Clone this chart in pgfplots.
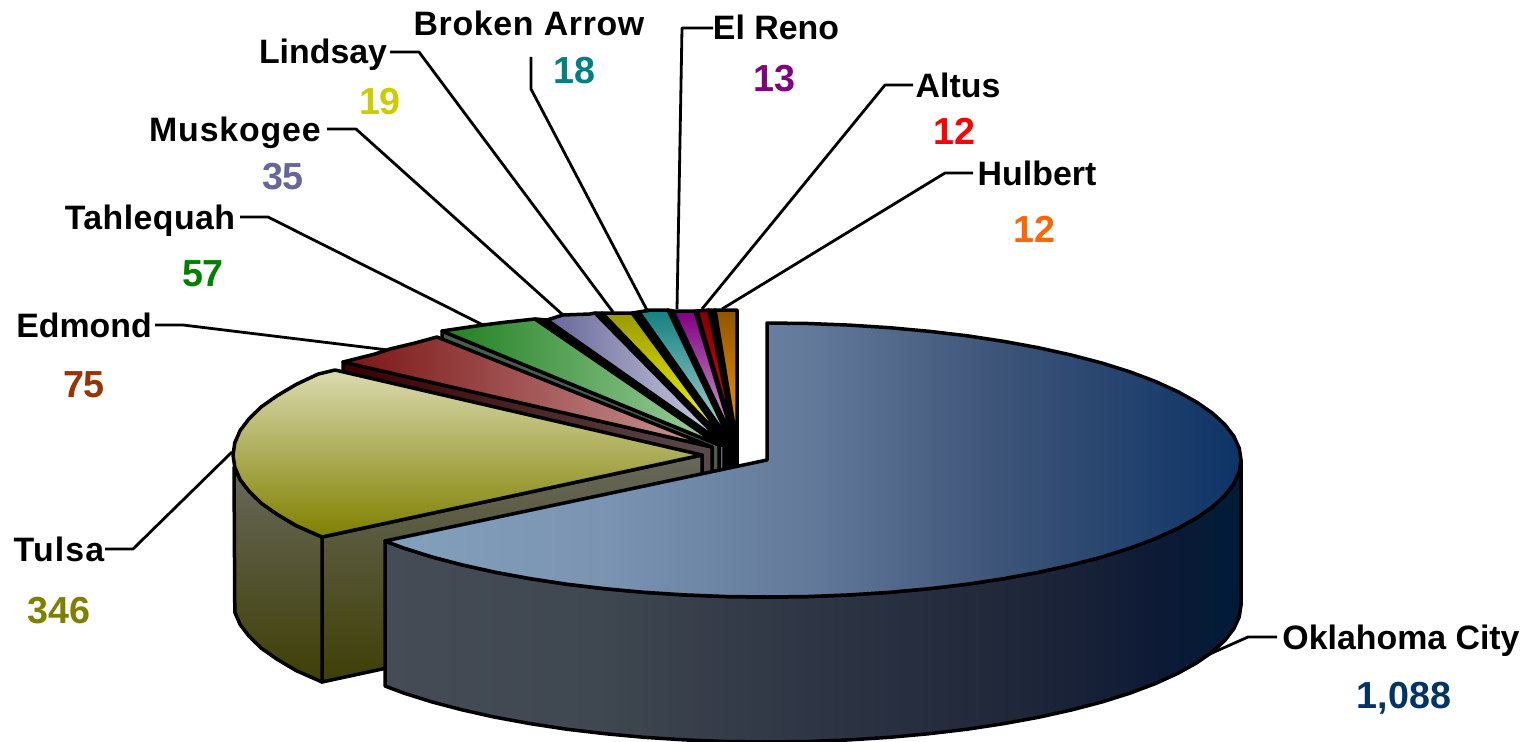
\documentclass[border=0pt]{standalone}
\usepackage{pgfplots}
\usepackage{fontspec}
\setmainfont{Liberation Sans}
\pgfplotsset{compat=1.18}
\definecolor{nOKC}{HTML}{003366}
\definecolor{nTul}{HTML}{808000}
\definecolor{nEdm}{HTML}{993300}
\definecolor{nTah}{HTML}{008000}
\definecolor{nMus}{HTML}{666699}
\definecolor{nLin}{HTML}{CCCC00}
\definecolor{nBro}{HTML}{008080}
\definecolor{nElR}{HTML}{800080}
\definecolor{nAlt}{HTML}{FF0000}
\definecolor{nHul}{HTML}{FF6600}
\definecolor{HTMLhul1}{HTML}{8F5500}
\definecolor{HTMLhul2}{HTML}{FF9900}
\definecolor{HTMLalt1}{HTML}{800000}
\definecolor{HTMLalt2}{HTML}{FF0000}
\definecolor{HTMLelr1}{HTML}{800080}
\definecolor{HTMLelr2}{HTML}{D8B0D8}
\definecolor{HTMLbro1}{HTML}{148080}
\definecolor{HTMLbro2}{HTML}{B0DCD8}
\definecolor{HTMLlin1}{HTML}{999900}
\definecolor{HTMLlin2}{HTML}{FFFF00}
\definecolor{HTMLmus1}{HTML}{666699}
\definecolor{HTMLmus2}{HTML}{D0D0E4}
\definecolor{HTMLmusw}{HTML}{6B6B73}
\definecolor{HTMLtah1}{HTML}{1F7F1F}
\definecolor{HTMLtah2}{HTML}{A0D0A0}
\definecolor{HTMLtahw}{HTML}{4A5C4C}
\definecolor{HTMLedw1}{HTML}{3A0000}
\definecolor{HTMLedw2}{HTML}{5A4A4C}
\definecolor{HTMLedm1}{HTML}{7A1414}
\definecolor{HTMLedmm}{HTML}{A46666}
\definecolor{HTMLedm2}{HTML}{CC9898}
\definecolor{HTMLtuw1}{HTML}{68685C}
\definecolor{HTMLtuw2}{HTML}{3F3F05}
\definecolor{HTMLtul1}{HTML}{DADAB0}
\definecolor{HTMLtulm}{HTML}{B8B884}
\definecolor{HTMLtul2}{HTML}{808000}
\definecolor{HTMLsA}{HTML}{454C56}
\definecolor{HTMLsB}{HTML}{3F4750}
\definecolor{HTMLsC}{HTML}{2E3544}
\definecolor{HTMLsD}{HTML}{1E2639}
\definecolor{HTMLsE}{HTML}{0E1A36}
\definecolor{HTMLsF}{HTML}{001B36}
\definecolor{HTMLtA}{HTML}{82A0BC}
\definecolor{HTMLtB}{HTML}{7B94B2}
\definecolor{HTMLtC}{HTML}{62799A}
\definecolor{HTMLtD}{HTML}{3D5478}
\definecolor{HTMLtE}{HTML}{0D3366}
\pgfdeclarehorizontalshading{okside}{100bp}{
 color(0bp)=(HTMLsA); color(25bp)=(HTMLsA); color(37.5bp)=(HTMLsB); color(50bp)=(HTMLsC);
 color(62.5bp)=(HTMLsD); color(70bp)=(HTMLsE); color(75bp)=(HTMLsF); color(100bp)=(HTMLsF)}
\pgfdeclarehorizontalshading{oktop}{100bp}{
 color(0bp)=(HTMLtA); color(25bp)=(HTMLtA); color(37.5bp)=(HTMLtB); color(50bp)=(HTMLtC);
 color(61bp)=(HTMLtD); color(75bp)=(HTMLtE); color(100bp)=(HTMLtE)}
\newcommand{\nm}[2][0]{\fontsize{17}{20}\selectfont\bfseries\addfontfeature{LetterSpace=#1}#2}
\newcommand{\vl}[1]{\fontsize{18.9}{20}\selectfont\bfseries #1}
\tikzset{pie/.style={draw=black,line width=1.75bp,line join=round},
 lead/.style={draw=black,line width=1.4bp,line join=round},
 lab/.style={anchor=base,inner sep=0pt,outer sep=0pt}}
\begin{document}
\begin{tikzpicture}
\begin{axis}[width=766bp,height=371bp,scale only axis,
 xmin=0,xmax=1532,ymin=0,ymax=742,y dir=reverse,
 axis line style={draw=none},ticks=none,clip=true]
% Hulbert
\addplot[pie,fill=black] coordinates {(708,310)(715,310)(737,444)(737,589)(708,455)} -- cycle;
\addplot[pie,top color=HTMLhul1,bottom color=HTMLhul2] coordinates {(715,310)(737,310)(737,444)} -- cycle;
% Altus
\addplot[pie,fill=black] coordinates {(695,311)(697,311)(736,444)(736,589)(695,456)} -- cycle;
\addplot[pie,top color=HTMLalt1,bottom color=HTMLalt2] coordinates {(697,311)(709,310)(736,444)} -- cycle;
% El Reno
\addplot[pie,fill=black] coordinates {(668,310)(673,311)(735,444)(735,589)(668,455)} -- cycle;
\addplot[pie,top color=HTMLelr1,bottom color=HTMLelr2] coordinates {(673,311)(695,311)(735,444)} -- cycle;
% Broken Arrow
\addplot[pie,fill=black] coordinates {(632,313)(639,312)(732,444)(732,589)(632,458)} -- cycle;
\addplot[pie,top color=HTMLbro1,bottom color=HTMLbro2] coordinates {(639,312)(650,310)(668,310)(732,444)} -- cycle;
% Lindsay
\addplot[pie,fill=black] coordinates {(595,313)(602,313)(728,444)(728,589)(595,458)} -- cycle;
\addplot[pie,top color=HTMLlin1,bottom color=HTMLlin2] coordinates {(602,313)(632,313)(728,444)} -- cycle;
% Muskogee
\addplot[pie,fill=black] coordinates {(535,319)(547,320)(724,444)(724,589)(535,464)} -- cycle;
\addplot[pie,fill=HTMLmusw] coordinates {(719,446)(724,444)(724,480)(719,480)} -- cycle;
\addplot[pie,left color=HTMLmus1,right color=HTMLmus2] coordinates {(547,320)(563,315)(590,314)(595,313)(724,444)} -- cycle;
% Tahlequah
\addplot[pie,fill=HTMLtahw] coordinates {(442,331)(719,445)(719,590)(442,476)} -- cycle;
\addplot[pie,left color=HTMLtah1,right color=HTMLtah2] coordinates {(442,331)(483,325)(507,322)(535,319)(719,445)} -- cycle;
% Edmond
\addplot[pie,left color=HTMLedw1,right color=HTMLedw2] coordinates {(343,362)(712,447)(712,592)(343,507)} -- cycle;
\addplot[pie,left color=HTMLedm1,middle color=HTMLedmm,right color=HTMLedm2] coordinates {(343,362)(375,354)(390,349)(415,343)(437,337)(712,447)} -- cycle;
% Tulsa
\addplot[pie,top color=HTMLtuw1,bottom color=HTMLtuw2] coordinates {(322,537)(702,455)(702,600)(322,682)} -- cycle;
\addplot[pie,top color=HTMLtuw1,bottom color=HTMLtuw2] coordinates {(322,537)(322,682)(296,670.5)(277,659.2)(261.3,648.2)(249,636.2)(240.1,624.5)(234.8,612.2)(234,467.2)(240.1,479.5)(249,491.2)(261.3,503.2)(277,514.2)(296,525.5)} -- cycle;
\addplot[pie,top color=HTMLtul1,middle color=HTMLtulm,bottom color=HTMLtul2] coordinates {(322,537)(296,525.5)(277,514.2)(261.3,503.2)(249,491.2)(240.1,479.5)(234.8,467.2)(233,455)(234.8,442.8)(240.1,430.5)(249,418.8)(261.3,406.8)(277,395.8)(296,384.5)(318,374.1)(335,370)(702,455)} -- cycle;
% Oklahoma City
\addplot[pie,shading=okside] coordinates {(385,541)(385,686)(403.9,693.1)(431.8,701.9)(462.3,709.9)(495.1,717.2)(530,723.6)(566.7,729.2)(604.9,733.7)(644.3,737.3)(684.7,739.9)(725.7,741.5)(767,742)(808.3,741.5)(849.3,739.9)(889.7,737.3)(929.1,733.7)(967.3,729.2)(1004,723.6)(1038.9,717.2)(1071.7,709.9)(1102.2,701.9)(1130.1,693.1)(1155.3,683.6)(1177.5,673.5)(1196.6,662.9)(1212.4,651.9)(1224.8,640.5)(1233.8,628.8)(1239.2,616.9)(1241,605)(1241,460)(1239.2,471.9)(1233.8,483.8)(1224.8,495.5)(1212.4,506.9)(1196.6,517.9)(1177.5,528.5)(1155.3,538.6)(1130.1,548.1)(1102.2,556.9)(1071.7,564.9)(1038.9,572.2)(1004,578.6)(967.3,584.2)(929.1,588.7)(889.7,592.3)(849.3,594.9)(808.3,596.5)(767,597)(725.7,596.5)(684.7,594.9)(644.3,592.3)(604.9,588.7)(566.7,584.2)(530,578.6)(495.1,572.2)(462.3,564.9)(431.8,556.9)(403.9,548.1)} -- cycle;
\addplot[pie,shading=oktop] coordinates {(767,460)(767,323)(808.3,323.5)(849.3,325.1)(889.7,327.7)(929.1,331.3)(967.3,335.8)(1004,341.4)(1038.9,347.8)(1071.7,355.1)(1102.2,363.1)(1130.1,371.9)(1155.3,381.4)(1177.5,391.5)(1196.6,402.1)(1212.4,413.1)(1224.8,424.5)(1233.8,436.2)(1239.2,448.1)(1241,460)(1239.2,471.9)(1233.8,483.8)(1224.8,495.5)(1212.4,506.9)(1196.6,517.9)(1177.5,528.5)(1155.3,538.6)(1130.1,548.1)(1102.2,556.9)(1071.7,564.9)(1038.9,572.2)(1004,578.6)(967.3,584.2)(929.1,588.7)(889.7,592.3)(849.3,594.9)(808.3,596.5)(767,597)(725.7,596.5)(684.7,594.9)(644.3,592.3)(604.9,588.7)(566.7,584.2)(530,578.6)(495.1,572.2)(462.3,564.9)(431.8,556.9)(403.9,548.1)(385,541)} -- cycle;
% leader lines
\addplot[lead] coordinates {(1277,637)(1248,637)(1203,657)};
\addplot[lead] coordinates {(105,549)(133,549)(232,452)};
\addplot[lead] coordinates {(155,325)(183,325)(388,350)};
\addplot[lead] coordinates {(240,217)(268,217)(483,325)};
\addplot[lead] coordinates {(327,129)(356,129)(563,315)};
\addplot[lead] coordinates {(390,52)(419,52)(613,312)};
\addplot[lead] coordinates {(531,57)(531,89)(648,312)};
\addplot[lead] coordinates {(713,28)(682,28)(677,309)};
\addplot[lead] coordinates {(913,85)(885,85)(702,309)};
\addplot[lead] coordinates {(973,173)(945,173)(722,309)};
% labels
\node[lab] at (axis cs:1401,649) {\nm{Oklahoma City}};
\node[lab,text=nOKC] at (axis cs:1404,708) {\vl{1,088}};
\node[lab] at (axis cs:59,561) {\nm[3.5]{Tulsa}};
\node[lab,text=nTul] at (axis cs:59,623) {\vl{346}};
\node[lab] at (axis cs:84,337) {\nm{Edmond}};
\node[lab,text=nEdm] at (axis cs:84,397) {\vl{75}};
\node[lab] at (axis cs:150,229) {\nm[1.3]{Tahlequah}};
\node[lab,text=nTah] at (axis cs:203,286) {\vl{57}};
\node[lab] at (axis cs:235,141) {\nm[2.5]{Muskogee}};
\node[lab,text=nMus] at (axis cs:283,189) {\vl{35}};
\node[lab] at (axis cs:323,63) {\nm{Lindsay}};
\node[lab,text=nLin] at (axis cs:380,114) {\vl{19}};
\node[lab] at (axis cs:529,36) {\nm[2]{Broken Arrow}};
\node[lab,text=nBro] at (axis cs:574,83) {\vl{18}};
\node[lab] at (axis cs:776,40) {\nm{El Reno}};
\node[lab,text=nElR] at (axis cs:774,91) {\vl{13}};
\node[lab] at (axis cs:958,97) {\nm{Altus}};
\node[lab,text=nAlt] at (axis cs:954,144) {\vl{12}};
\node[lab] at (axis cs:1037,185) {\nm{Hulbert}};
\node[lab,text=nHul] at (axis cs:1034,242) {\vl{12}};
\end{axis}
\end{tikzpicture}
\end{document}
